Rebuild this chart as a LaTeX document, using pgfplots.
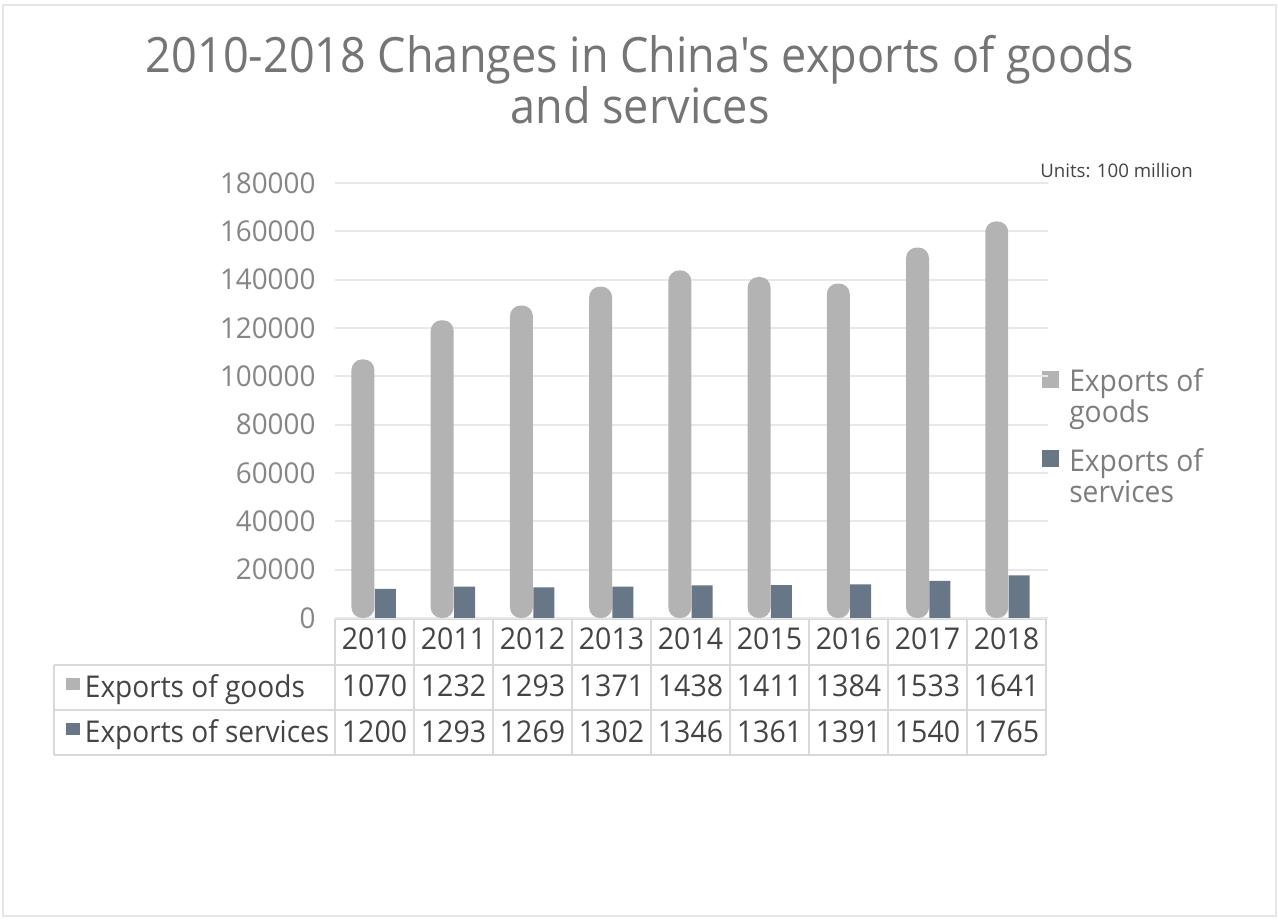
\documentclass[border=0pt]{standalone}
\usepackage{pgfplots}
\pgfplotsset{compat=1.18}
\usepackage{pgfplotstable}
\usepackage{fontspec}
\setmainfont{Open Sans}
\newfontfamily\titlef[FakeStretch=0.925]{Open Sans}
\newfontfamily\tickf[FakeStretch=0.97]{Open Sans}
\newfontfamily\legf[FakeStretch=0.94]{Open Sans}
\newfontfamily\tabf[FakeStretch=0.95]{Open Sans}
\newfontfamily\tabhf[FakeStretch=0.935]{Open Sans}

\definecolor{goods}{RGB}{178,179,178}
\definecolor{services}{RGB}{104,119,136}
\definecolor{titlegray}{RGB}{118,116,116}
\definecolor{tickgray}{RGB}{134,134,134}
\definecolor{leggray}{RGB}{125,125,125}
\definecolor{tabtext}{RGB}{68,68,68}
\definecolor{gridgray}{RGB}{232,232,232}
\definecolor{tabline}{RGB}{217,217,217}
\definecolor{framegray}{RGB}{230,230,230}

% bar heights (goods, services)
\pgfplotstableread{
x gbar sbar
0 107000 12000
1 123200 12930
2 129300 12690
3 137100 13020
4 143800 13460
5 141100 13610
6 138400 13910
7 153300 15400
8 164100 17650
}\bars

\begin{document}
\begin{tikzpicture}
\fill[white] (0,0) rectangle (958.5pt,690pt);
\begin{scope}[x=0.75pt,y=-0.75pt,shift={(0pt,690pt)}]
  \draw[framegray, line width=1.6pt] (3,5) rectangle (1276,916);
  % title
  \node[anchor=base, font=\titlef\fontsize{36.5pt}{40pt}\selectfont, text=titlegray, inner sep=0pt] at (640,73) {2010-2018 Changes in China's exports of goods};
  \node[anchor=base, font=\titlef\fontsize{36.5pt}{40pt}\selectfont, text=titlegray, inner sep=0pt] at (640,124) {and services};
  % units
  \node[anchor=base west, font=\fontsize{14pt}{16pt}\selectfont, text=tabtext, inner sep=0pt] at (1040,178) {Units: 100 million};
  % legend
  \node[anchor=base west, inner sep=0pt] at (1042,388) {\textcolor{goods}{\rule{12.75pt}{12.75pt}}};
  \node[anchor=base west, inner sep=0pt] at (1042,467) {\textcolor{services}{\rule{12.75pt}{12.75pt}}};
  \begin{scope}[every node/.style={anchor=base west, inner sep=0pt, text=leggray, font=\legf\fontsize{22.5pt}{26pt}\selectfont}]
    \node at (1069,392) {Exports of};
    \node at (1069,423) {goods};
    \node at (1069,472) {Exports of};
    \node at (1069,503) {services};
  \end{scope}
  % data table
  \begin{scope}[tabline, line width=1.5pt]
    \draw (335,619) -- (1046,619);
    \draw (54,665) -- (1046,665);
    \draw (54,710) -- (1046,710);
    \draw (54,755) -- (1046,755);
    \draw (54,665) -- (54,755);
    \foreach \c in {0,...,9} { \draw ({335+79*\c},619) -- ({335+79*\c},755); }
  \end{scope}
  \begin{scope}[every node/.style={anchor=base, inner sep=0pt, text=tabtext, font=\tabf\fontsize{22.5pt}{26pt}\selectfont}]
    \foreach \yr [count=\i from 0] in {2010,2011,2012,2013,2014,2015,2016,2017,2018}
      { \node at ({374.5+79*\i},650) {\yr}; }
    \foreach \v [count=\i from 0] in {1070,1232,1293,1371,1438,1411,1384,1533,1641}
      { \node at ({374.5+79*\i},697) {\v}; }
    \foreach \v [count=\i from 0] in {1200,1293,1269,1302,1346,1361,1391,1540,1765}
      { \node at ({374.5+79*\i},743) {\v}; }
    \node[anchor=base west, font=\tabhf\fontsize{22.5pt}{26pt}\selectfont] at (66,698) {\textcolor{goods}{\rule[6pt]{10.5pt}{9pt}}\hspace{3.5pt}Exports of goods};
    \node[anchor=base west, font=\tabhf\fontsize{22.5pt}{26pt}\selectfont] at (66,743) {\textcolor{services}{\rule[6pt]{10.5pt}{9pt}}\hspace{3.5pt}Exports of services};
  \end{scope}
\end{scope}

\begin{axis}[
  at={(251.25pt,226.5pt)}, anchor=south west,
  scale only axis, width=534.75pt, height=326.25pt,
  xmin=-0.5, xmax=8.5, ymin=0, ymax=180000,
  axis line style={draw=none},
  major tick length=0pt,
  xtick=\empty,
  ytick={0,20000,...,180000},
  ymajorgrids, grid style={gridgray, line width=1.5pt},
  scaled y ticks=false,
  yticklabel style={/pgf/number format/fixed, /pgf/number format/1000 sep={}, /pgf/number format/assume math mode=true},
  y tick label style={font=\tickf\fontsize{21.5pt}{24pt}\selectfont, text=tickgray, anchor=east, inner sep=0pt, xshift=-14.5pt},
  clip=false,
]
\addplot[ybar, bar width=0.29, bar shift=-0.147, fill=goods, draw=none, rounded corners=8pt] table[x=x, y=gbar] {\bars};
\addplot[ybar, bar width=0.265, bar shift=0.135, fill=services, draw=none] table[x=x, y=sbar] {\bars};
\end{axis}
\end{tikzpicture}
\end{document}
